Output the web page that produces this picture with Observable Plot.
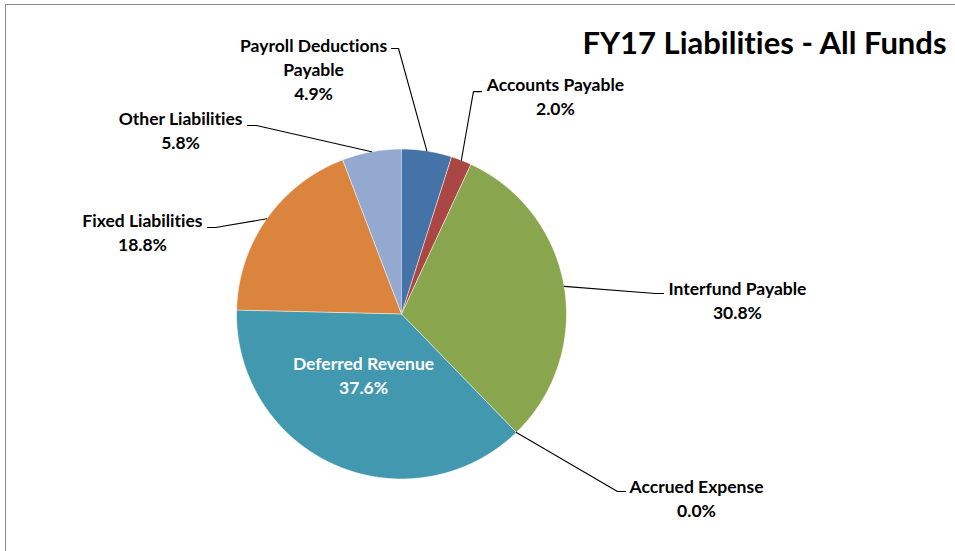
<!DOCTYPE html>
<html><head><meta charset="utf-8">
<script src="https://cdn.jsdelivr.net/npm/d3@7"></script>
<script src="https://cdn.jsdelivr.net/npm/@observablehq/plot@0.6"></script>
<style>
html,body{margin:0;padding:0;background:#fff;overflow:hidden;width:955px;height:551px;}
#wrap{position:relative;width:955px;height:551px;overflow:hidden;}
#border{position:absolute;left:5px;top:4px;width:1200px;height:800px;border:1.5px solid #8c8c8c;box-sizing:border-box;}
#chart{position:absolute;left:0;top:0;}
svg text{font-variant-ligatures:none;font-feature-settings:"liga" 0,"clig" 0;}
</style></head><body><div id="wrap"><div id="border"></div><div id="chart"></div></div>
<script>
// ---- data ----
const title = "FY17 Liabilities - All Funds";
const categories = ["Payroll Deductions Payable","Accounts Payable","Interfund Payable","Accrued Expense","Deferred Revenue","Fixed Liabilities","Other Liabilities"];
const labelNames = ["Payroll Deductions\nPayable","Accounts Payable","Interfund Payable","Accrued Expense","Deferred Revenue","Fixed Liabilities","Other Liabilities"];
const shares = [4.9, 2.0, 30.8, 0.0, 37.6, 18.8, 5.8];
const colors = ["#4572A7","#AA4643","#89A54E","#71588F","#4198AF","#DB843D","#93A9CF"];

// ---- layout (label anchors and leader-line elbows, in pie-radius units) ----
const labelPos = [[-0.533,1.489],[0.933,1.327],[2.036,0.088],[1.788,-1.112],[-0.230,-0.367],[-1.570,0.500],[-1.339,1.118]];
const elbows = [
  [[-0.061,1.609],[-0.018,1.609]],
  [[0.485,1.348],[0.436,1.348]],
  [[1.588,0.124],[1.539,0.124]],
  [[1.358,-1.076],[1.309,-1.076]],
  null,
  [[-1.176,0.524],[-1.127,0.524]],
  [[-0.933,1.142],[-0.879,1.142]]
];

const arcs = d3.pie().sort(null).value(d => d)(shares);

// slice polygons
const slicePts = [];
arcs.forEach((a, i) => {
  const name = categories[i];
  if (a.endAngle - a.startAngle <= 0) return;
  slicePts.push({name, x: 0, y: 0});
  const n = Math.max(2, Math.ceil((a.endAngle - a.startAngle) / 0.01));
  for (let k = 0; k <= n; k++) {
    const t = a.startAngle + (a.endAngle - a.startAngle) * k / n;
    slicePts.push({name, x: Math.sin(t), y: Math.cos(t)});
  }
});

// leader lines
const leaderPts = [];
arcs.forEach((a, i) => {
  if (!elbows[i]) return;
  const m = (a.startAngle + a.endAngle) / 2;
  elbows[i].forEach(p => leaderPts.push({name: categories[i], x: p[0], y: p[1]}));
  leaderPts.push({name: categories[i], x: Math.sin(m), y: Math.cos(m)});
});

const labels = categories.map((c, i) => ({
  name: c,
  text: labelNames[i] + "\n" + shares[i].toFixed(1) + "%",
  x: labelPos[i][0], y: labelPos[i][1],
  inside: c === "Deferred Revenue"
}));

const font = "Lato, 'Open Sans', sans-serif";
const chart = Plot.plot({
  width: 955, height: 551,
  marginTop: 0, marginRight: 0, marginBottom: 0, marginLeft: 0,
  x: {domain: [-1, 1], range: [236, 566], axis: null},
  y: {domain: [-1, 1], range: [478.5, 148.5], axis: null},
  color: {domain: categories, range: colors},
  style: {fontFamily: font, background: "transparent"},
  marks: [
    Plot.line(slicePts, {x: "x", y: "y", z: "name", fill: "name", stroke: "#ffffff", strokeWidth: 0.6, curve: "linear"}),
    Plot.line(leaderPts, {x: "x", y: "y", z: "name", stroke: "#000", strokeWidth: 1.1, curve: "linear"}),
    Plot.text(labels, {x: "x", y: "y", text: "text", fill: d => d.inside ? "#ffffff" : "#000000",
      fontSize: 17.5, fontWeight: "bold", lineHeight: 24 / 17.5, lineAnchor: "middle", textAnchor: "middle"}),
    Plot.text([title], {x: 2.2, y: 1.638, text: d => d, fontSize: 31, fontWeight: "bold", fill: "#000", textAnchor: "middle", lineAnchor: "middle"})
  ]
});
document.getElementById("chart").appendChild(chart);
</script>
</body></html>
